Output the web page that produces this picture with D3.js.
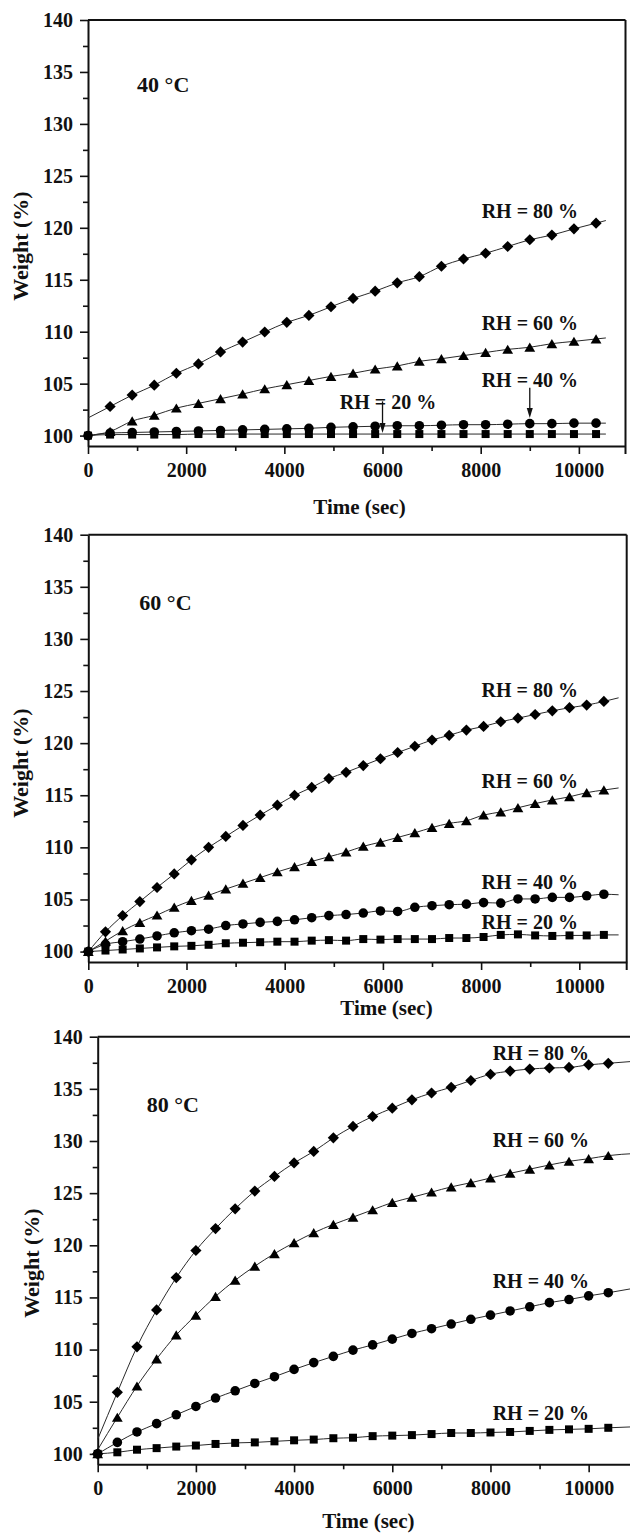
<!DOCTYPE html>
<html>
<head>
<meta charset="utf-8">
<script src="https://cdn.jsdelivr.net/npm/d3@7"></script>
<style>
  html, body { margin: 0; padding: 0; background: #fff; }
  svg { display: block; }
  text { font-family: "Liberation Serif", "Times New Roman", serif; font-weight: bold; fill: #111; }
</style>
</head>
<body>
<svg id="chart" width="630" height="1533"></svg>
<script>
// ---- shared axis ticks ----
const yTickValues = [100, 105, 110, 115, 120, 125, 130, 135, 140];
const yMinorValues = [102.5, 107.5, 112.5, 117.5, 122.5, 127.5, 132.5, 137.5];
const xTickValues = [0, 2000, 4000, 6000, 8000, 10000];
const xMinorValues = [1000, 3000, 5000, 7000, 9000];
const rhLabels = ["RH = 20 %", "RH = 40 %", "RH = 60 %", "RH = 80 %"];
const tempLabels = ["40 °C", "60 °C", "80 °C"];

// ---- 40 °C: sampled weights (%) ----
const time40 = [450, 900, 1350, 1800, 2250, 2700, 3150, 3600, 4050, 4500, 4950, 5400,
  5850, 6300, 6750, 7200, 7650, 8100, 8550, 9000, 9450, 9900, 10350];
const w40rh20 = [100.1, 100.1, 100.1, 100.1, 100.15, 100.15, 100.15, 100.15, 100.15, 100.15, 100.15, 100.15,
  100.15, 100.15, 100.15, 100.15, 100.15, 100.15, 100.15, 100.15, 100.15, 100.15, 100.15];
const w40rh40 = [100.25, 100.3, 100.35, 100.4, 100.45, 100.5, 100.55, 100.6, 100.65, 100.7, 100.8, 100.85,
  100.9, 100.95, 100.95, 101.0, 101.05, 101.05, 101.1, 101.15, 101.15, 101.2, 101.2];
const w40rh60 = [100.4, 101.4, 101.95, 102.65, 103.1, 103.55, 104.0, 104.5, 104.9, 105.3, 105.7, 106.0,
  106.4, 106.7, 107.15, 107.4, 107.7, 108.0, 108.3, 108.5, 108.85, 109.07, 109.3];
const w40rh80 = [102.8, 103.9, 104.85, 106.0, 106.9, 108.05, 109.0, 109.97, 110.9, 111.57, 112.4, 113.2,
  113.9, 114.7, 115.3, 116.3, 117.0, 117.55, 118.2, 118.85, 119.3, 119.9, 120.45];
// fitted curve end values (RH 20, 40, 60, 80)
const fit40Start = [100.0, 100.0, 100.0, 101.7];
const fit40End = [100.15, 101.2, 109.4, 120.7];
const fit40EndTime = 10550;

// ---- 60 °C ----
const time60 = [350, 700, 1050, 1400, 1750, 2100, 2450, 2800, 3150, 3500, 3850, 4200, 4550, 4900, 5250,
  5600, 5950, 6300, 6650, 7000, 7350, 7700, 8050, 8400, 8750, 9100, 9450, 9800, 10150, 10500];
const w60rh20 = [100.1, 100.2, 100.3, 100.4, 100.5, 100.55, 100.65, 100.8, 100.85, 100.9, 100.95, 100.95,
  101.05, 101.1, 101.05, 101.2, 101.15, 101.2, 101.2, 101.2, 101.3, 101.3, 101.4, 101.6, 101.65, 101.55,
  101.5, 101.55, 101.55, 101.6];
const w60rh40 = [100.7, 100.95, 101.2, 101.5, 101.8, 102.0, 102.15, 102.5, 102.65, 102.8, 102.9, 103.05,
  103.25, 103.45, 103.55, 103.7, 103.9, 103.85, 104.25, 104.4, 104.5, 104.55, 104.7, 104.65, 105.05, 105.05,
  105.2, 105.2, 105.35, 105.5];
const w60rh60 = [101.0, 102.0, 102.8, 103.5, 104.25, 104.9, 105.4, 106.0, 106.55, 107.1, 107.65, 108.15,
  108.65, 109.1, 109.55, 110.1, 110.5, 110.95, 111.4, 111.9, 112.3, 112.55, 113.1, 113.4, 113.8, 114.2,
  114.55, 114.85, 115.25, 115.5];
const w60rh80 = [101.9, 103.45, 104.8, 106.15, 107.45, 108.8, 110.0, 111.05, 112.1, 113.1, 114.05, 115.0,
  115.75, 116.6, 117.2, 117.85, 118.5, 119.1, 119.7, 120.3, 120.75, 121.25, 121.6, 122.05, 122.4, 122.75,
  123.1, 123.4, 123.65, 124.0];
const fit60Start = [100.0, 100.0, 100.0, 100.0];
const fit60End = [101.6, 105.45, 115.7, 124.35];
const fit60EndTime = 10800;

// ---- 80 °C ----
const time80 = [400, 800, 1200, 1600, 2000, 2400, 2800, 3200, 3600, 4000, 4400, 4800, 5200,
  5600, 6000, 6400, 6800, 7200, 7600, 8000, 8400, 8800, 9200, 9600, 10000, 10400];
const w80rh20 = [100.15, 100.4, 100.55, 100.7, 100.8, 100.95, 101.05, 101.1, 101.2, 101.3, 101.37, 101.5,
  101.55, 101.7, 101.75, 101.8, 101.9, 102.0, 102.0, 102.05, 102.1, 102.2, 102.3, 102.35, 102.4, 102.5];
const w80rh40 = [101.1, 102.1, 102.9, 103.75, 104.55, 105.35, 106.05, 106.75, 107.4, 108.1, 108.75, 109.35,
  109.95, 110.45, 111.0, 111.55, 112.0, 112.45, 112.9, 113.3, 113.7, 114.1, 114.5, 114.8, 115.15, 115.45];
const w80rh60 = [103.5, 106.5, 109.1, 111.4, 113.3, 115.1, 116.65, 118.0, 119.2, 120.25, 121.2, 122.0,
  122.7, 123.4, 124.1, 124.6, 125.1, 125.6, 126.0, 126.45, 126.9, 127.3, 127.7, 128.05, 128.3, 128.6];
const w80rh80 = [105.9, 110.26, 113.8, 116.9, 119.5, 121.6, 123.5, 125.2, 126.6, 127.9, 129.0, 130.3,
  131.4, 132.35, 133.15, 133.95, 134.6, 135.15, 135.8, 136.4, 136.7, 136.9, 137.0, 137.05, 137.3, 137.45];
const fit80Start = [100.0, 100.0, 100.4, 101.4];
const fit80End = [102.6, 115.9, 128.8, 137.65];
const fit80EndTime = 10950;

// ---- panel layout ----
const panels = [
  {
    box: { left: 88, top: 20, right: 625.5, bottom: 446 }, xMax: 10950, rightBorder: true,
    time: time40, series: [w40rh20, w40rh40, w40rh60, w40rh80],
    fitStart: fit40Start, fitEnd: fit40End, fitEndTime: fit40EndTime,
    originMarks: [true, true, false, false],
    title: tempLabels[0], titleAt: [1000, 133.05],
    labelAt: [[5130, 102.55], [8020, 104.7], [8020, 110.15], [8020, 120.95]],
    arrows: [{ t: 6000, from: 103.3, to: 100.25 }, { t: 9000, from: 104.6, to: 101.7 }],
    yTitle: [20, 246], xTitle: [359.5, 514]
  },
  {
    box: { left: 88.3, top: 534.7, right: 626.7, bottom: 962 }, xMax: 10965, rightBorder: true,
    time: time60, series: [w60rh20, w60rh40, w60rh60, w60rh80],
    fitStart: fit60Start, fitEnd: fit60End, fitEndTime: fit60EndTime,
    originMarks: [true, true, true, true],
    title: tempLabels[1], titleAt: [1040, 132.8],
    labelAt: [[8010, 102.14], [8010, 105.98], [8010, 115.73], [8010, 124.46]],
    arrows: [],
    yTitle: [20.5, 763], xTitle: [386.5, 1015]
  },
  {
    box: { left: 97.7, top: 1036.7, right: 635.3, bottom: 1464.3 }, xMax: 10950, rightBorder: false,
    time: time80, series: [w80rh20, w80rh40, w80rh60, w80rh80],
    fitStart: fit80Start, fitEnd: fit80End, fitEndTime: fit80EndTime,
    originMarks: [true, true, true, true],
    title: tempLabels[2], titleAt: [1000, 132.8],
    labelAt: [[8045, 103.25], [8045, 115.9], [8045, 129.45], [8045, 137.76]],
    arrows: [],
    yTitle: [31, 1263], xTitle: [368.3, 1528]
  }
];

// marker outlines, one per RH level
const symbolPaths = [
  "M-4,-4h8v8h-8z",
  d3.symbol(d3.symbolCircle, 72)(),
  "M0,-4.7L5.4,4.5L-5.4,4.5Z",
  "M0,-5.6L5.6,0L0,5.6L-5.6,0Z"
];

const svg = d3.select("#chart");

function drawPanel(p) {
  const b = p.box;
  const x = d3.scaleLinear().domain([0, p.xMax]).range([b.left, b.right]);
  const y = d3.scaleLinear().domain([99, 140]).range([b.bottom, b.top]);
  const g = svg.append("g");

  // frame: top and right edges
  g.append("line").attr("x1", b.left).attr("x2", b.right).attr("y1", b.top).attr("y2", b.top)
    .attr("stroke", "#111").attr("stroke-width", 2);
  if (p.rightBorder) {
    g.append("line").attr("x1", b.right).attr("x2", b.right).attr("y1", b.top).attr("y2", b.bottom + 8)
      .attr("stroke", "#111").attr("stroke-width", 2);
  }

  // y axis
  g.append("g").attr("transform", `translate(${b.left},0)`)
    .call(d3.axisLeft(y).tickValues(yTickValues).tickSize(8).tickSizeOuter(0).tickPadding(7).tickFormat(d3.format("d")));
  g.append("g").attr("transform", `translate(${b.left},0)`)
    .call(d3.axisLeft(y).tickValues(yMinorValues).tickSize(5).tickSizeOuter(0).tickFormat(""))
    .select(".domain").remove();

  // x axis
  g.append("g").attr("transform", `translate(0,${b.bottom})`)
    .call(d3.axisBottom(x).tickValues(xTickValues).tickSize(8).tickSizeOuter(0).tickPadding(9).tickFormat(d3.format("d")));
  g.append("g").attr("transform", `translate(0,${b.bottom})`)
    .call(d3.axisBottom(x).tickValues(xMinorValues).tickSize(5).tickSizeOuter(0).tickFormat(""))
    .select(".domain").remove();

  g.selectAll(".domain").attr("stroke", "#111").attr("stroke-width", 2);
  g.selectAll(".tick line").attr("stroke", "#111").attr("stroke-width", 1.6);
  g.selectAll(".tick text").attr("font-size", 20).attr("fill", "#111")
    .attr("font-family", "Liberation Serif, Times New Roman, serif").attr("font-weight", "bold");

  // fitted curves
  const line = d3.line().x(d => x(d[0])).y(d => y(d[1])).curve(d3.curveMonotoneX);
  p.series.forEach((vals, i) => {
    const pts = [[0, p.fitStart[i]]].concat(p.time.map((t, k) => [t, vals[k]]), [[p.fitEndTime, p.fitEnd[i]]]);
    g.append("path").attr("d", line(pts)).attr("fill", "none")
      .attr("stroke", "#2a2a2a").attr("stroke-width", 1);
  });

  // markers
  p.series.forEach((vals, i) => {
    const pts = p.time.map((t, k) => [t, vals[k]]);
    if (p.originMarks[i]) pts.unshift([0, 100]);
    g.append("g").selectAll("path").data(pts).join("path")
      .attr("d", symbolPaths[i])
      .attr("transform", d => `translate(${x(d[0])},${y(d[1])})`)
      .attr("fill", "#000");
  });

  // series labels
  p.series.forEach((vals, i) => {
    g.append("text").attr("x", x(p.labelAt[i][0])).attr("y", y(p.labelAt[i][1]))
      .attr("font-size", 20).text(rhLabels[i]);
  });

  // pointer arrows
  p.arrows.forEach(a => {
    const ax = x(a.t), y1 = y(a.from), y2 = y(a.to);
    g.append("line").attr("x1", ax).attr("x2", ax).attr("y1", y1).attr("y2", y2 - 8)
      .attr("stroke", "#111").attr("stroke-width", 1.3);
    g.append("path").attr("d", `M${ax},${y2}L${ax - 3},${y2 - 10}L${ax + 3},${y2 - 10}Z`).attr("fill", "#111");
  });

  // temperature title
  g.append("text").attr("x", x(p.titleAt[0])).attr("y", y(p.titleAt[1]))
    .attr("font-size", 22).text(p.title);

  // axis titles
  g.append("text").attr("transform", `translate(${p.yTitle[0]},${p.yTitle[1]}) rotate(-90)`)
    .attr("text-anchor", "middle").attr("dominant-baseline", "central")
    .attr("font-size", 22).text("Weight (%)");
  g.append("text").attr("x", p.xTitle[0]).attr("y", p.xTitle[1])
    .attr("text-anchor", "middle").attr("font-size", 21).text("Time (sec)");
}

panels.forEach(drawPanel);
</script>
</body>
</html>
